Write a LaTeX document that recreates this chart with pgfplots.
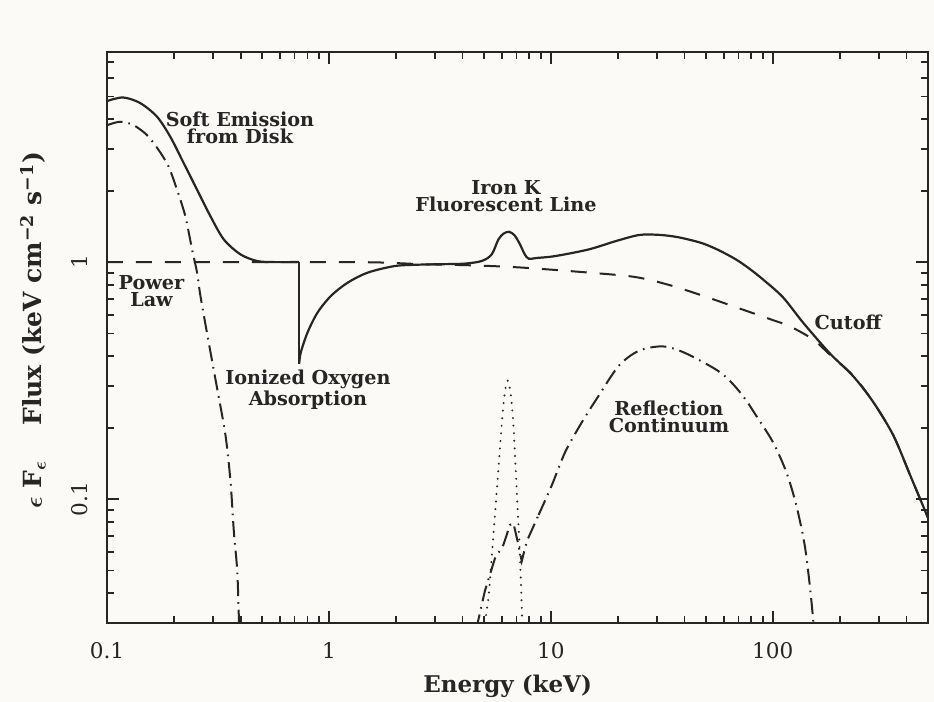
\documentclass[border=0pt]{standalone}
\usepackage{fontspec}
\setmainfont{DejaVu Serif}
\usepackage{pgfplots}
\pgfplotsset{compat=1.18}
\definecolor{ink}{RGB}{38,38,38}
\definecolor{paper}{RGB}{251,250,246}
\tikzset{lab/.style={text=ink, font=\bfseries\fontsize{9.6}{8.8}\selectfont, align=center, inner sep=0pt}}

\begin{document}
\begin{tikzpicture}
% page frame and paper tone
\fill[paper] (-53.5pt,-39.5pt) rectangle (413.5pt,311.5pt);
\useasboundingbox (-53.5pt,-39.5pt) rectangle (413.5pt,311.5pt);
\begin{axis}[
  at={(0,0)}, anchor=south west,
  scale only axis, width=410.5pt, height=285.5pt,
  xmode=log, ymode=log,
  xmin=0.1, xmax=500, ymin=0.03, ymax=7.7,
  clip mode=individual,
  axis line style={ink, line width=1pt},
  every tick/.style={ink, line width=0.9pt},
  major tick length=6pt, minor tick length=3.5pt,
  tick align=inside, xtick pos=both, ytick pos=both,
  xtick={0.1,1,10,100}, xticklabels={0.1,1,10,100},
  ytick={0.1,1}, yticklabels={0.1,1},
  minor xtick={0.2,0.3,0.4,0.5,0.6,0.7,0.8,0.9,2,3,4,5,6,7,8,9,20,30,40,50,60,70,80,90,200,300,400},
  minor ytick={0.04,0.05,0.06,0.07,0.08,0.09,0.2,0.3,0.4,0.5,0.6,0.7,0.8,0.9,2,3,4,5,6,7},
  tick label style={text=ink, font=\fontsize{10.8}{12}\selectfont},
  xticklabel style={anchor=north, inner xsep=0pt, inner ysep=9.3pt},
  yticklabel style={rotate=90, anchor=south, inner xsep=0pt, inner ysep=9.3pt},
]

% power law continuum
\addplot[ink, line width=1pt, dash pattern=on 8pt off 6.5pt, smooth] coordinates {
 (0.1,1.0) (1.2,1.0) (2.0,0.99) (2.61,0.98) (4.53,0.968) (7.4,0.948)
 (14.8,0.903) (24.0,0.865) (34.2,0.80) (48.2,0.722) (68.2,0.645)
 (96.9,0.575) (119,0.536) (151.7,0.472) (180.6,0.407) (230.1,0.332)
 (283.5,0.2565) (349.1,0.1857) (415.6,0.1261) (494,0.0857) (500,0.083)
};

% soft emission from the disk
\addplot[ink, line width=1pt, dash pattern=on 8pt off 3pt on 0.8pt off 3pt, smooth] coordinates {
 (0.1,3.78) (0.1145,3.91) (0.1311,3.79) (0.1512,3.44) (0.1707,2.975)
 (0.1894,2.53) (0.2068,2.02) (0.2254,1.561) (0.2417,1.131) (0.2546,0.903)
 (0.2636,0.720) (0.2873,0.458) (0.3137,0.292) (0.342,0.1857) (0.3603,0.1183)
 (0.3729,0.0729) (0.3864,0.0495) (0.3936,0.030) (0.396,0.028)
};

% iron K fluorescent line
\addplot[ink, line width=1.1pt, line cap=round, dash pattern=on 0pt off 3.8pt, smooth] coordinates {
 (4.98,0.028) (5.23,0.0383) (5.41,0.0563) (5.70,0.1074) (6.00,0.2046)
 (6.19,0.278) (6.39,0.316) (6.59,0.278) (6.78,0.2046) (7.02,0.1074)
 (7.26,0.0563) (7.45,0.028)
};

% reflection continuum
\addplot[ink, line width=1pt, dash pattern=on 8pt off 3pt on 0.8pt off 3pt] coordinates {
 (4.6,0.028) (5.04,0.0409) (5.60,0.0563) (6.11,0.0641) (6.54,0.0778)
 (6.78,0.0791) (7.14,0.0641) (7.39,0.0547) (7.79,0.0664) (8.80,0.0857)
};
\addplot[ink, line width=1pt, dash pattern=on 8pt off 3pt on 0.8pt off 3pt, smooth] coordinates {
 (8.80,0.0857) (10.1,0.1145) (11.6,0.158) (13.81,0.2114) (16.44,0.2735)
 (20.25,0.3656) (24.94,0.4227) (31.8,0.441) (39.2,0.418) (51.7,0.366)
 (60,0.334) (68.2,0.296) (76,0.260) (84.0,0.2254) (100,0.1742)
 (114.9,0.1303) (127.5,0.0943) (139.1,0.0641) (146.6,0.0435) (151.7,0.0315)
 (153,0.028)
};

% total spectrum
\addplot[ink, line width=1.1pt, smooth] coordinates {
 (0.1,4.78) (0.1181,4.95) (0.141,4.69) (0.1679,4.11) (0.1928,3.38)
 (0.2214,2.62) (0.2546,2.02) (0.2925,1.561) (0.336,1.246) (0.3998,1.077)
 (0.4758,1.01) (0.56,1.0) (0.694,1.0) (0.734,1.0)
};
\addplot[ink, line width=1.1pt] coordinates {(0.734,1.0) (0.734,0.372)};
\addplot[ink, line width=1.1pt, smooth] coordinates {
 (0.734,0.372) (0.747,0.416) (0.801,0.505) (0.889,0.613) (1.021,0.720)
 (1.215,0.819) (1.497,0.903) (1.975,0.962) (2.52,0.975) (3.3,0.98)
 (4.08,0.985) (4.87,1.01) (5.41,1.077) (5.80,1.246) (6.13,1.32)
 (6.49,1.342) (6.87,1.295) (7.26,1.187) (7.63,1.077) (7.96,1.033)
 (8.65,1.041) (10.46,1.06) (14.82,1.131) (19.54,1.225) (24.94,1.301)
 (30.2,1.304) (35.3,1.285) (40.4,1.254) (48.2,1.200) (57.0,1.123)
 (68.2,1.026) (78.4,0.938) (90.1,0.846) (111,0.711) (136.7,0.556)
 (180.6,0.412) (230.1,0.330) (283.5,0.2565) (349.1,0.1857) (415.6,0.1261)
 (494,0.0857) (500,0.083)
};

% annotations
\node[lab] at (rel axis cs:0.162,0.8669) {Soft Emission\\from Disk};
\node[lab] at (rel axis cs:0.0542,0.5814) {Power\\Law};
\node[lab] at (rel axis cs:0.2448,0.408) {Ionized Oxygen\\Absorption};
\node[lab] at (rel axis cs:0.486,0.7478) {Iron K\\Fluorescent Line};
\node[lab] at (rel axis cs:0.6845,0.3608) {Reflection\\Continuum};
\node[lab] at (rel axis cs:0.9026,0.527) {Cutoff};

% axis titles
\node[text=ink, font=\bfseries\fontsize{11.5}{13}\selectfont] at (rel axis cs:0.488,-0.1103) {Energy (keV)};
\node[text=ink, rotate=90, font=\bfseries\boldmath\fontsize{12.5}{14}\selectfont] at (rel axis cs:-0.0901,0.513)
  {$\epsilon$ F$_{\epsilon}$\hspace{1.4em}Flux (keV cm\textsuperscript{\char"2212 2} s\textsuperscript{\char"2212 1})};
\end{axis}
\end{tikzpicture}
\end{document}
